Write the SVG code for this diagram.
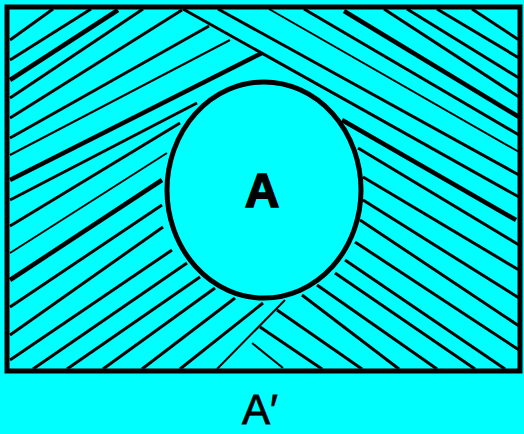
<svg xmlns="http://www.w3.org/2000/svg" width="524" height="434" viewBox="0 0 524 434">
<style>
.h{stroke:#000;stroke-width:3;fill:none}
.t{stroke-width:2}
.k{stroke-width:4.5}
.lbl{font-family:"Liberation Sans",Arial,sans-serif;fill:#000}
</style>
<rect x="0" y="0" width="524" height="434" fill="#00FFFF"/>
<g id="universe">
<rect x="7" y="7" width="513" height="364" fill="#00FFFF" stroke="#000" stroke-width="5"/>
</g>
<g id="hatching">
<line class="h" x1="10" y1="40" x2="53" y2="9"/>
<line class="h" x1="10" y1="60" x2="91" y2="9"/>
<line class="h k" x1="10" y1="80" x2="118" y2="10"/>
<line class="h" x1="10" y1="98" x2="143" y2="9"/>
<line class="h" x1="10" y1="118" x2="182" y2="10"/>
<line class="h" x1="10" y1="138" x2="209" y2="26"/>
<line class="h t" x1="10" y1="155" x2="230" y2="40"/>
<line class="h k" x1="10" y1="180" x2="262" y2="53"/>
<line class="h" x1="10" y1="200" x2="197" y2="103"/>
<line class="h" x1="10" y1="226" x2="180" y2="123"/>
<line class="h t" x1="10" y1="253" x2="167" y2="153"/>
<line class="h k" x1="10" y1="280" x2="162" y2="180"/>
<line class="h" x1="10" y1="307" x2="162" y2="205"/>
<line class="h" x1="10" y1="335" x2="163" y2="227"/>
<line class="h" x1="10" y1="360" x2="172" y2="250"/>
<line class="h" x1="33" y1="369" x2="187" y2="263"/>
<line class="h" x1="67" y1="369" x2="200" y2="277"/>
<line class="h" x1="103" y1="369" x2="215" y2="288"/>
<line class="h" x1="142" y1="369" x2="235" y2="298"/>
<line class="h" x1="180" y1="369" x2="263" y2="303"/>
<line class="h t" x1="217" y1="369" x2="285" y2="300"/>
<line class="h" x1="472" y1="9" x2="519" y2="40"/>
<line class="h" x1="437" y1="9" x2="519" y2="58"/>
<line class="h" x1="407" y1="9" x2="519" y2="78"/>
<line class="h" x1="384" y1="9" x2="519" y2="97"/>
<line class="h k" x1="344" y1="11" x2="519" y2="117"/>
<line class="h" x1="304" y1="9" x2="519" y2="135"/>
<line class="h t" x1="269" y1="9" x2="519" y2="152"/>
<line class="h" x1="218" y1="9" x2="519" y2="175"/>
<line class="h" x1="183" y1="9" x2="519" y2="197"/>
<line class="h k" x1="342" y1="120" x2="516" y2="220"/>
<line class="h" x1="358" y1="148" x2="519" y2="245"/>
<line class="h" x1="363" y1="177" x2="519" y2="270"/>
<line class="h" x1="363" y1="200" x2="519" y2="298"/>
<line class="h" x1="360" y1="220" x2="519" y2="326"/>
<line class="h" x1="355" y1="242" x2="519" y2="350"/>
<line class="h" x1="345" y1="260" x2="505" y2="369"/>
<line class="h" x1="335" y1="273" x2="475" y2="369"/>
<line class="h" x1="317" y1="285" x2="437" y2="369"/>
<line class="h" x1="302" y1="295" x2="399" y2="369"/>
<line class="h" x1="277" y1="310" x2="362" y2="369"/>
<line class="h" x1="260" y1="327" x2="322" y2="369"/>
<line class="h t" x1="252" y1="343" x2="283" y2="368"/>
</g>
<g id="setA">
<ellipse cx="264" cy="190" rx="97" ry="108" fill="#00FFFF" stroke="#000" stroke-width="5"/>
<text class="lbl" x="262" y="207" font-size="48" font-weight="bold" text-anchor="middle" stroke="#000" stroke-width="1.5">A</text>
</g>
<g id="complement">
<text class="lbl" x="242" y="424" font-size="42" stroke="#000" stroke-width="0.8">A′</text>
</g>
</svg>
